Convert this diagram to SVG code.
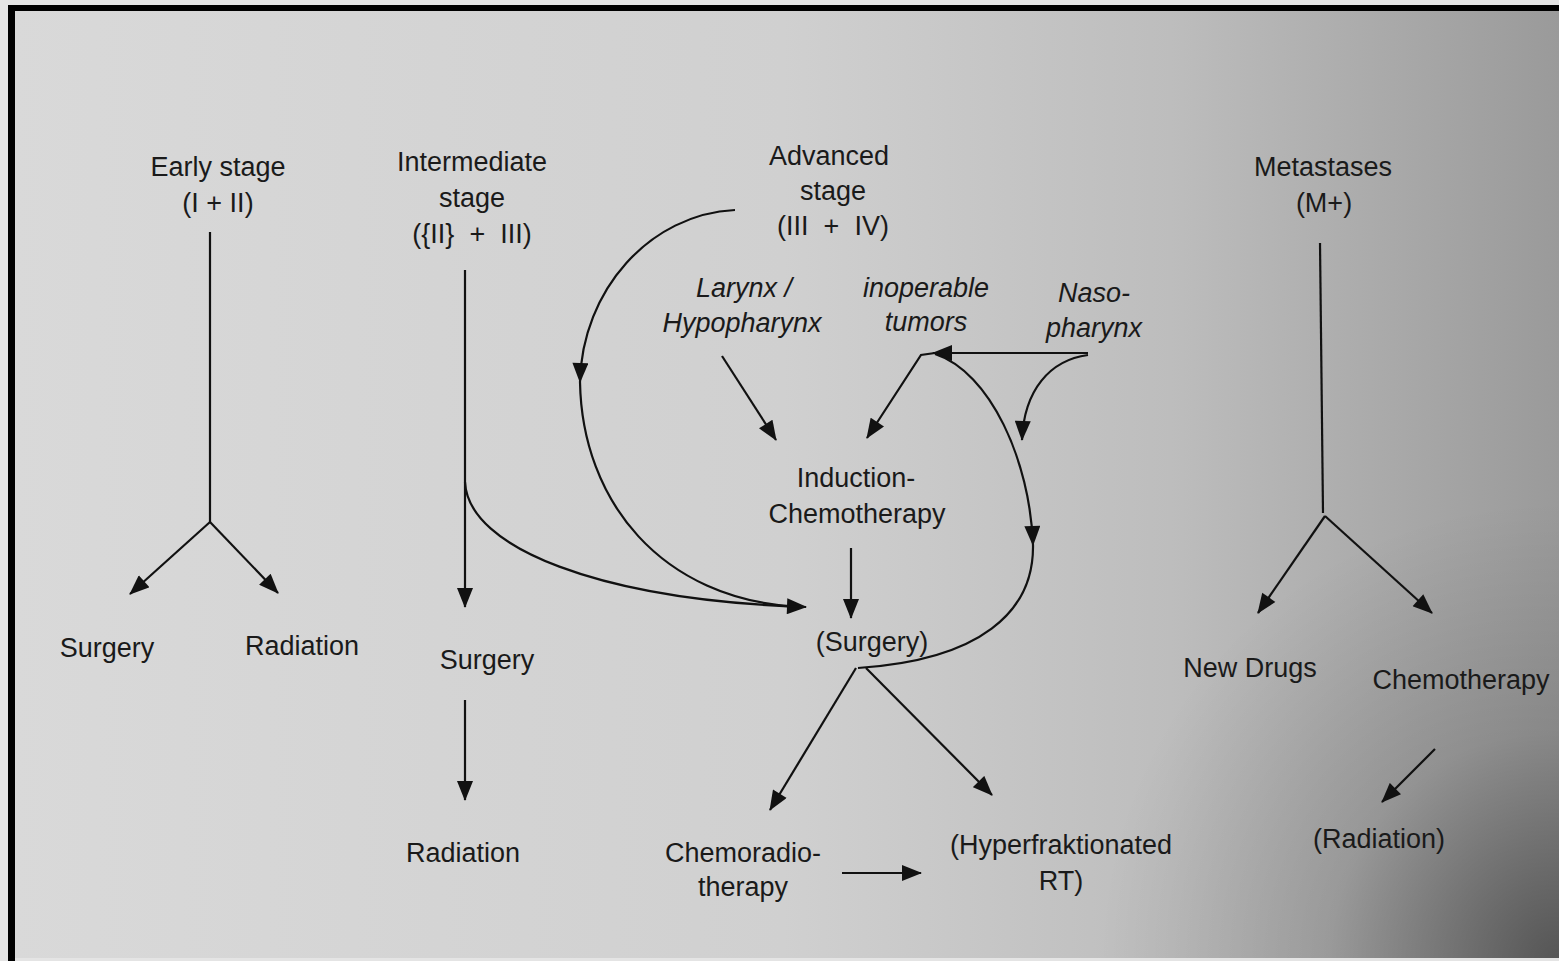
<svg xmlns="http://www.w3.org/2000/svg" width="1559" height="961" viewBox="0 0 1559 961">
<defs>
<linearGradient id="bg" x1="0" y1="0" x2="1" y2="0">
<stop offset="0" stop-color="#d9d9d9"/>
<stop offset="0.5" stop-color="#d0d0d0"/>
<stop offset="0.75" stop-color="#bdbdbd"/>
<stop offset="1" stop-color="#9a9a9a"/>
</linearGradient>
<radialGradient id="vig" cx="1559" cy="961" r="460" gradientUnits="userSpaceOnUse">
<stop offset="0" stop-color="#000" stop-opacity="0.45"/>
<stop offset="0.5" stop-color="#000" stop-opacity="0.12"/>
<stop offset="1" stop-color="#000" stop-opacity="0"/>
</radialGradient>
<marker id="ah" viewBox="0 0 20 16" refX="19" refY="8" markerWidth="21" markerHeight="16" markerUnits="userSpaceOnUse" orient="auto">
<path d="M0,0 L20,8 L0,16 z" fill="#111"/>
</marker>
<style>
text{font-family:"Liberation Sans",Arial,sans-serif;font-size:27px;fill:#1a1a1a;text-anchor:middle}
.it{font-style:italic}
.ln{fill:none;stroke:#111;stroke-width:2.2}
.ar{marker-end:url(#ah)}
</style>
</defs>
<rect x="0" y="0" width="1559" height="961" fill="#e4e4e4"/>
<rect x="8" y="5" width="1551" height="953" fill="url(#bg)"/>
<rect x="8" y="5" width="1551" height="953" fill="url(#vig)"/>
<rect x="8" y="5" width="1551" height="6" fill="#000"/>
<rect x="8" y="5" width="7" height="956" fill="#000"/>

<g id="connectors">
<path class="ln" d="M210,232 L210,522"/>
<path class="ln ar" d="M210,522 L130,594"/>
<path class="ln ar" d="M210,522 L278,593"/>
<path class="ln ar" d="M465,270 L465,607"/>
<path class="ln ar" d="M465,700 L465,800"/>
<path class="ln ar" d="M465,482 C468,548 600,600 806,607"/>
<path class="ln ar" d="M735,210 C650,214 582,290 580,382"/>
<path class="ln" d="M580,382 C582,500 660,600 800,607"/>
<path class="ln ar" d="M722,356 L776,440"/>
<path class="ln ar" d="M1088,353 L933,353"/>
<path class="ln ar" d="M935,353 L921,355 L867,438"/>
<path class="ln ar" d="M1088,355 C1050,360 1024,390 1022,440"/>
<path class="ln ar" d="M935,354 C990,372 1030,460 1033,545"/>
<path class="ln" d="M1033,545 C1034,612 980,660 858,668"/>
<path class="ln ar" d="M851,548 L851,618"/>
<path class="ln ar" d="M856,668 L770,810"/>
<path class="ln ar" d="M866,668 L992,795"/>
<path class="ln ar" d="M842,873 L921,873"/>
<path class="ln" d="M1320,243 L1323,513"/>
<path class="ln ar" d="M1325,516 L1258,613"/>
<path class="ln ar" d="M1325,516 L1432,613"/>
<path class="ln ar" d="M1435,749 L1382,802"/>
</g>

<g id="early"><text x="218" y="176">Early stage</text><text x="218" y="212">(I + II)</text></g>
<g id="early-surgery"><text x="107" y="657">Surgery</text></g>
<g id="early-radiation"><text x="302" y="655">Radiation</text></g>

<g id="intermediate"><text x="472" y="171">Intermediate</text><text x="472" y="207">stage</text><text x="472" y="243" xml:space="preserve">({II}  +  III)</text></g>
<g id="int-surgery"><text x="487" y="669">Surgery</text></g>
<g id="int-radiation"><text x="463" y="862">Radiation</text></g>

<g id="advanced"><text x="829" y="165">Advanced</text><text x="833" y="200">stage</text><text x="833" y="235" xml:space="preserve">(III  +  IV)</text></g>
<g id="larynx"><text class="it" x="744" y="297">Larynx /</text><text class="it" x="742" y="332">Hypopharynx</text></g>
<g id="inoperable"><text class="it" x="926" y="297">inoperable</text><text class="it" x="926" y="331">tumors</text></g>
<g id="naso"><text class="it" x="1094" y="302">Naso-</text><text class="it" x="1094" y="337">pharynx</text></g>
<g id="induction"><text x="856" y="487">Induction-</text><text x="857" y="523">Chemotherapy</text></g>
<g id="adv-surgery"><text x="872" y="651">(Surgery)</text></g>
<g id="chemoradio"><text x="743" y="862">Chemoradio-</text><text x="743" y="896">therapy</text></g>
<g id="hyperfrak"><text x="1061" y="854">(Hyperfraktionated</text><text x="1061" y="890">RT)</text></g>

<g id="metastases"><text x="1323" y="176">Metastases</text><text x="1324" y="212">(M+)</text></g>
<g id="newdrugs"><text x="1250" y="677">New Drugs</text></g>
<g id="chemo"><text x="1461" y="689">Chemotherapy</text></g>
<g id="radiation-m"><text x="1379" y="848">(Radiation)</text></g>
</svg>
